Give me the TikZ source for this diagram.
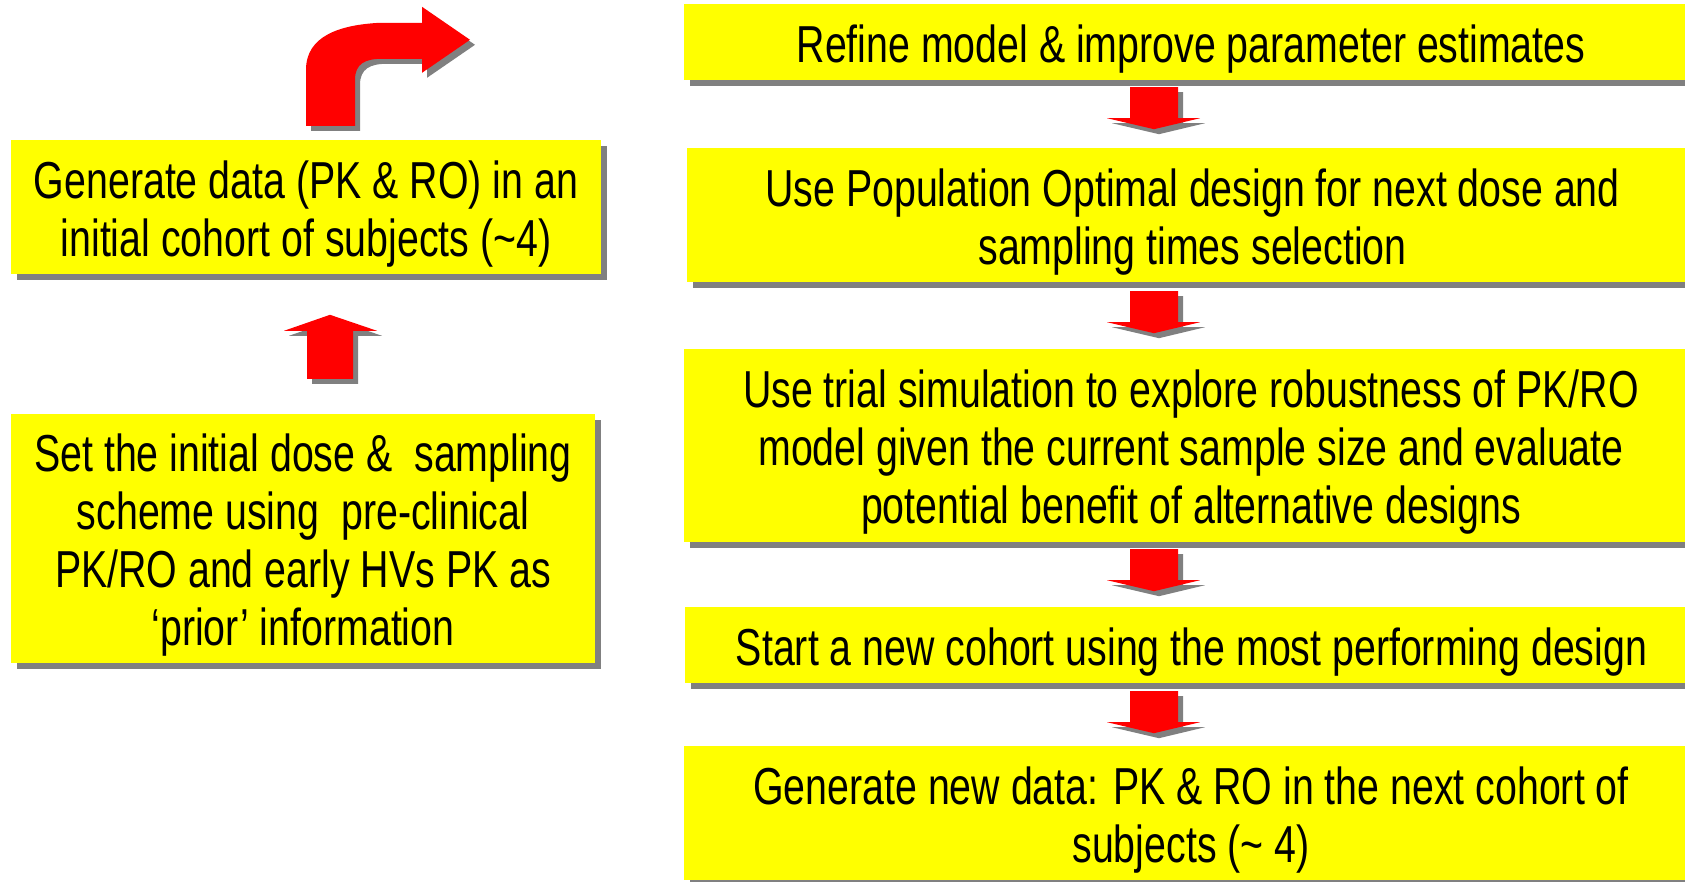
\documentclass[tikz,border=0pt]{standalone}
\usepackage{fontspec}
\setmainfont{Liberation Sans}[FakeStretch=0.756]
\usetikzlibrary{shadows,calc}
\definecolor{boxyellow}{RGB}{255,255,0}
\definecolor{arrowred}{RGB}{255,0,0}
\definecolor{shadegray}{RGB}{128,128,128}

\tikzset{
  stepbox/.style={fill=boxyellow, inner sep=0pt,
    drop shadow={shadow xshift=6pt, shadow yshift=-6pt, fill=shadegray, opacity=1}},
  steptext/.style={inner sep=0pt, align=center, font=\fontsize{52}{58}\selectfont},
  % short block arrow pointing down, origin at the top of the shaft
  dnarrow/.pic={
    \foreach \d/\c in {5/shadegray,0/arrowred}
      \fill[\c, shift={(\d,\d)}] (-24,0) -- (24,0) -- (24,31) -- (46,31)
        -- (0,42) -- (-47,31) -- (-24,31) -- cycle;
  },
  % short block arrow pointing up, origin at the bottom of the shaft
  uparrow/.pic={
    \foreach \d/\c in {5/shadegray,0/arrowred}
      \fill[\c, shift={(\d,\d)}] (-23,0) -- (23,0) -- (23,-48) -- (47,-48)
        -- (0,-64) -- (-46,-48) -- (-23,-48) -- cycle;
  },
  % bent arrow going up then turning right, origin at the bottom of the shaft
  bentarrow/.pic={
    \foreach \d/\c in {5/shadegray,0/arrowred}
      \fill[\c, shift={(\d,\d)}] (-24,0) -- (-24,-56)
        .. controls (-24,-90) and (10,-101) .. (50,-103) -- (92,-103)
        -- (92,-119) -- (140,-86) -- (92,-53) -- (92,-67) -- (52,-67)
        .. controls (35,-67) and (25,-62) .. (25,-46) -- (25,0) -- cycle;
  },
}

\begin{document}
\begin{tikzpicture}[x=1pt,y=-1pt]
  \fill[white] (0,0) rectangle (1685,882);
  \useasboundingbox (0,0) rectangle (1685,882);

  \coordinate (ucol) at (330,0);
  \coordinate (acol) at (1154,0);

  % left column
  \node[stepbox, minimum width=590pt, minimum height=134pt] (gen0) at (306,207) {};
  \node[steptext] (gen0t) at ($(gen0.center)+(0,7)$)
    {Generate data (PK \& RO) in an\\initial cohort of subjects (\textasciitilde4)};
  \node[stepbox, minimum width=584pt, minimum height=249pt] (setup) at (303,538.5) {};
  \node[steptext] (setupt) at ($(setup.center)+(0,7)$)
    {Set the initial dose \&\ \ sampling\\scheme using\ \ pre-clinical\\PK/RO and early HVs PK as\\‘prior’ information};

  % right column
  \node[stepbox, minimum width=1014pt, minimum height=76pt] (refine) at (1191,42) {};
  \node[steptext] (refinet) at ($(refine.center)+(0,7)$)
    {Refine model \& improve parameter estimates};
  \node[stepbox, minimum width=1011pt, minimum height=134pt] (popopt) at (1192.5,215) {};
  \node[steptext] (popoptt) at ($(popopt.center)+(0,7)$)
    {Use Population Optimal design for next dose and\\sampling times selection};
  \node[stepbox, minimum width=1014pt, minimum height=193pt] (trial) at (1191,445.5) {};
  \node[steptext] (trialt) at ($(trial.center)+(0,7)$)
    {Use trial simulation to explore robustness of PK/RO\\model given the current sample size and evaluate\\potential benefit of alternative designs};
  \node[stepbox, minimum width=1013pt, minimum height=76pt] (start) at (1191.5,645) {};
  \node[steptext] (startt) at ($(start.center)+(0,7)$)
    {Start a new cohort using the most performing design};
  \node[stepbox, minimum width=1014pt, minimum height=134pt] (gennew) at (1191,813) {};
  \node[steptext] (gennewt) at ($(gennew.center)+(0,7)$)
    {Generate new data: PK \& RO in the next cohort of\\subjects (\textasciitilde\ 4)};

  % arrows
  \pic at ($(setup.north -| ucol)+(0,-35)$) {uparrow};
  \pic at ($(gen0.north -| ucol)+(0,-14)$) {bentarrow};
  \pic at ($(refine.south -| acol)+(0,7)$) {dnarrow};
  \pic at ($(popopt.south -| acol)+(0,9)$) {dnarrow};
  \pic at ($(trial.south -| acol)+(0,7)$) {dnarrow};
  \pic at ($(start.south -| acol)+(0,8)$) {dnarrow};
\end{tikzpicture}
\end{document}
